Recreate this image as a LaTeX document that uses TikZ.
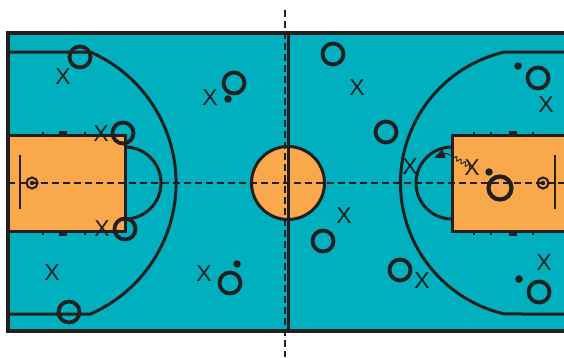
\documentclass[tikz,border=0pt]{standalone}
\usepackage{fontspec}
\setsansfont{Liberation Sans}
\usetikzlibrary{arrows.meta,decorations.pathmorphing}
\definecolor{floor}{RGB}{0,176,191}
\definecolor{paint}{RGB}{249,168,76}
\definecolor{ink}{RGB}{35,31,32}
\tikzset{
  ring/.style={draw=ink, circle, line width=3.8pt, minimum size=21pt, inner sep=0pt},
  bigring/.style={ring, line width=4.2pt, minimum size=23pt},
  cross/.style={text=ink, font=\sffamily\fontsize{23}{23}\selectfont, inner sep=0pt},
  ball/.style={fill=ink, circle, minimum size=7.5pt, inner sep=0pt},
  hoop/.style={draw=ink, circle, line width=2pt, minimum size=11pt, inner sep=0pt},
  tick/.style={fill=ink},
  courtline/.style={draw=ink, line width=3pt},
  guide/.style={draw=ink, line width=2pt, dash pattern=on 7pt off 4pt}
}
\begin{document}
\begin{tikzpicture}[x=1pt,y=1pt]
\useasboundingbox (0,0) rectangle (564,357);
% Floor
\fill[floor] (8,26) rectangle (568,324);
% Painted keys
\filldraw[fill=paint, courtline] (8,126) rectangle (125,222);
\filldraw[fill=paint, courtline] (452,126) rectangle (568,222);
% Center circle
\filldraw[fill=paint, courtline] (288,174) circle (36.5);
% Free throw half circles
\draw[courtline] (125,210) arc (90:-90:36);
\draw[courtline] (452,210) arc (90:270:36);
% Three point lines
\draw[courtline] (8,305) -- (90.3,305) arc (66.4:-66.4:143) -- (8,43);
\draw[courtline] (568,305) -- (504.5,305) arc (103.1:256.9:134.5) -- (568,43);
% Lane marks
\foreach \x in {43,85} {
  \fill[tick] (\x-1,222) rectangle (\x+1,225.5);
  \fill[tick] (\x-1,126) rectangle (\x+1,122.5);
}
\fill[tick] (59,222) rectangle (67,226.5);
\fill[tick] (59,126) rectangle (67,121.5);
\foreach \x in {474,491,533} {
  \fill[tick] (\x-1,222) rectangle (\x+1,225.5);
  \fill[tick] (\x-1,126) rectangle (\x+1,122.5);
}
\fill[tick] (509,222) rectangle (517,226.5);
\fill[tick] (509,126) rectangle (517,121.5);
% Backboards and baskets
\draw[ink, line width=2.4pt] (20,148) -- (20,202);
\draw[ink, line width=2.4pt] (555,148) -- (555,202);
\node[hoop] (h1) at (32,174) {};
\node[hoop] (h2) at (543,174) {};
\fill[ink] (h1) circle (2.2);
\fill[ink] (h2) circle (2.2);
% Axes of the court
\draw[guide] (8,174) -- (564,174);
\draw[courtline] (288,26) -- (288,324);
\draw[guide] (284.5,347) -- (284.5,0);
% Court outline
\draw[courtline, line width=3.4pt] (568,324) -- (8,324) -- (8,26) -- (568,26);
% Players O
\node[ring] (o1) at (80,300) {};
\node[ring] (o2) at (123,224) {};
\node[ring] (o3) at (125,128) {};
\node[ring] (o4) at (69,45) {};
\node[ring] (o5) at (234,274) {};
\node[ring] (o6) at (230,74) {};
\node[ring] (o7) at (333,303) {};
\node[ring] (o8) at (386,225) {};
\node[ring] (o9) at (323,116) {};
\node[bigring] (o10) at (500,169) {};
\node[ring] (o11) at (538,279) {};
\node[ring] (o12) at (400,87) {};
\node[ring] (o13) at (539,65) {};
% Players X
\node[cross] (x1) at (63,280) {X};
\node[cross] (x2) at (101,223) {X};
\node[cross] (x3) at (102,128) {X};
\node[cross] (x4) at (52,84) {X};
\node[cross] (x5) at (210,259) {X};
\node[cross] (x6) at (204,83) {X};
\node[cross] (x7) at (357,269) {X};
\node[cross] (x8) at (344,141) {X};
\node[cross] (x9) at (410,190) {X};
\node[cross] (x10) at (472,189) {X};
\node[cross] (x11) at (546,252) {X};
\node[cross] (x12) at (422,76) {X};
\node[cross] (x13) at (544,94) {X};
% Dots
\node[ball] (b1) at (228,258) {};
\node[ball] (b2) at (237,93) {};
\node[ball] (b3) at (489,185) {};
\node[ball] (b4) at (518,291) {};
\node[ball] (b5) at (519,78) {};
% Dribble path
\coordinate (turn) at (452,201);
\coordinate (tip) at (434,199);
\draw[ink, line width=0.9pt, -{Triangle[length=11pt,width=9pt]}] (x10.center)
  decorate[decoration={snake, amplitude=2pt, segment length=5pt}] {-- (turn)}
  .. controls (446,204) .. (tip);
\end{tikzpicture}
\end{document}
